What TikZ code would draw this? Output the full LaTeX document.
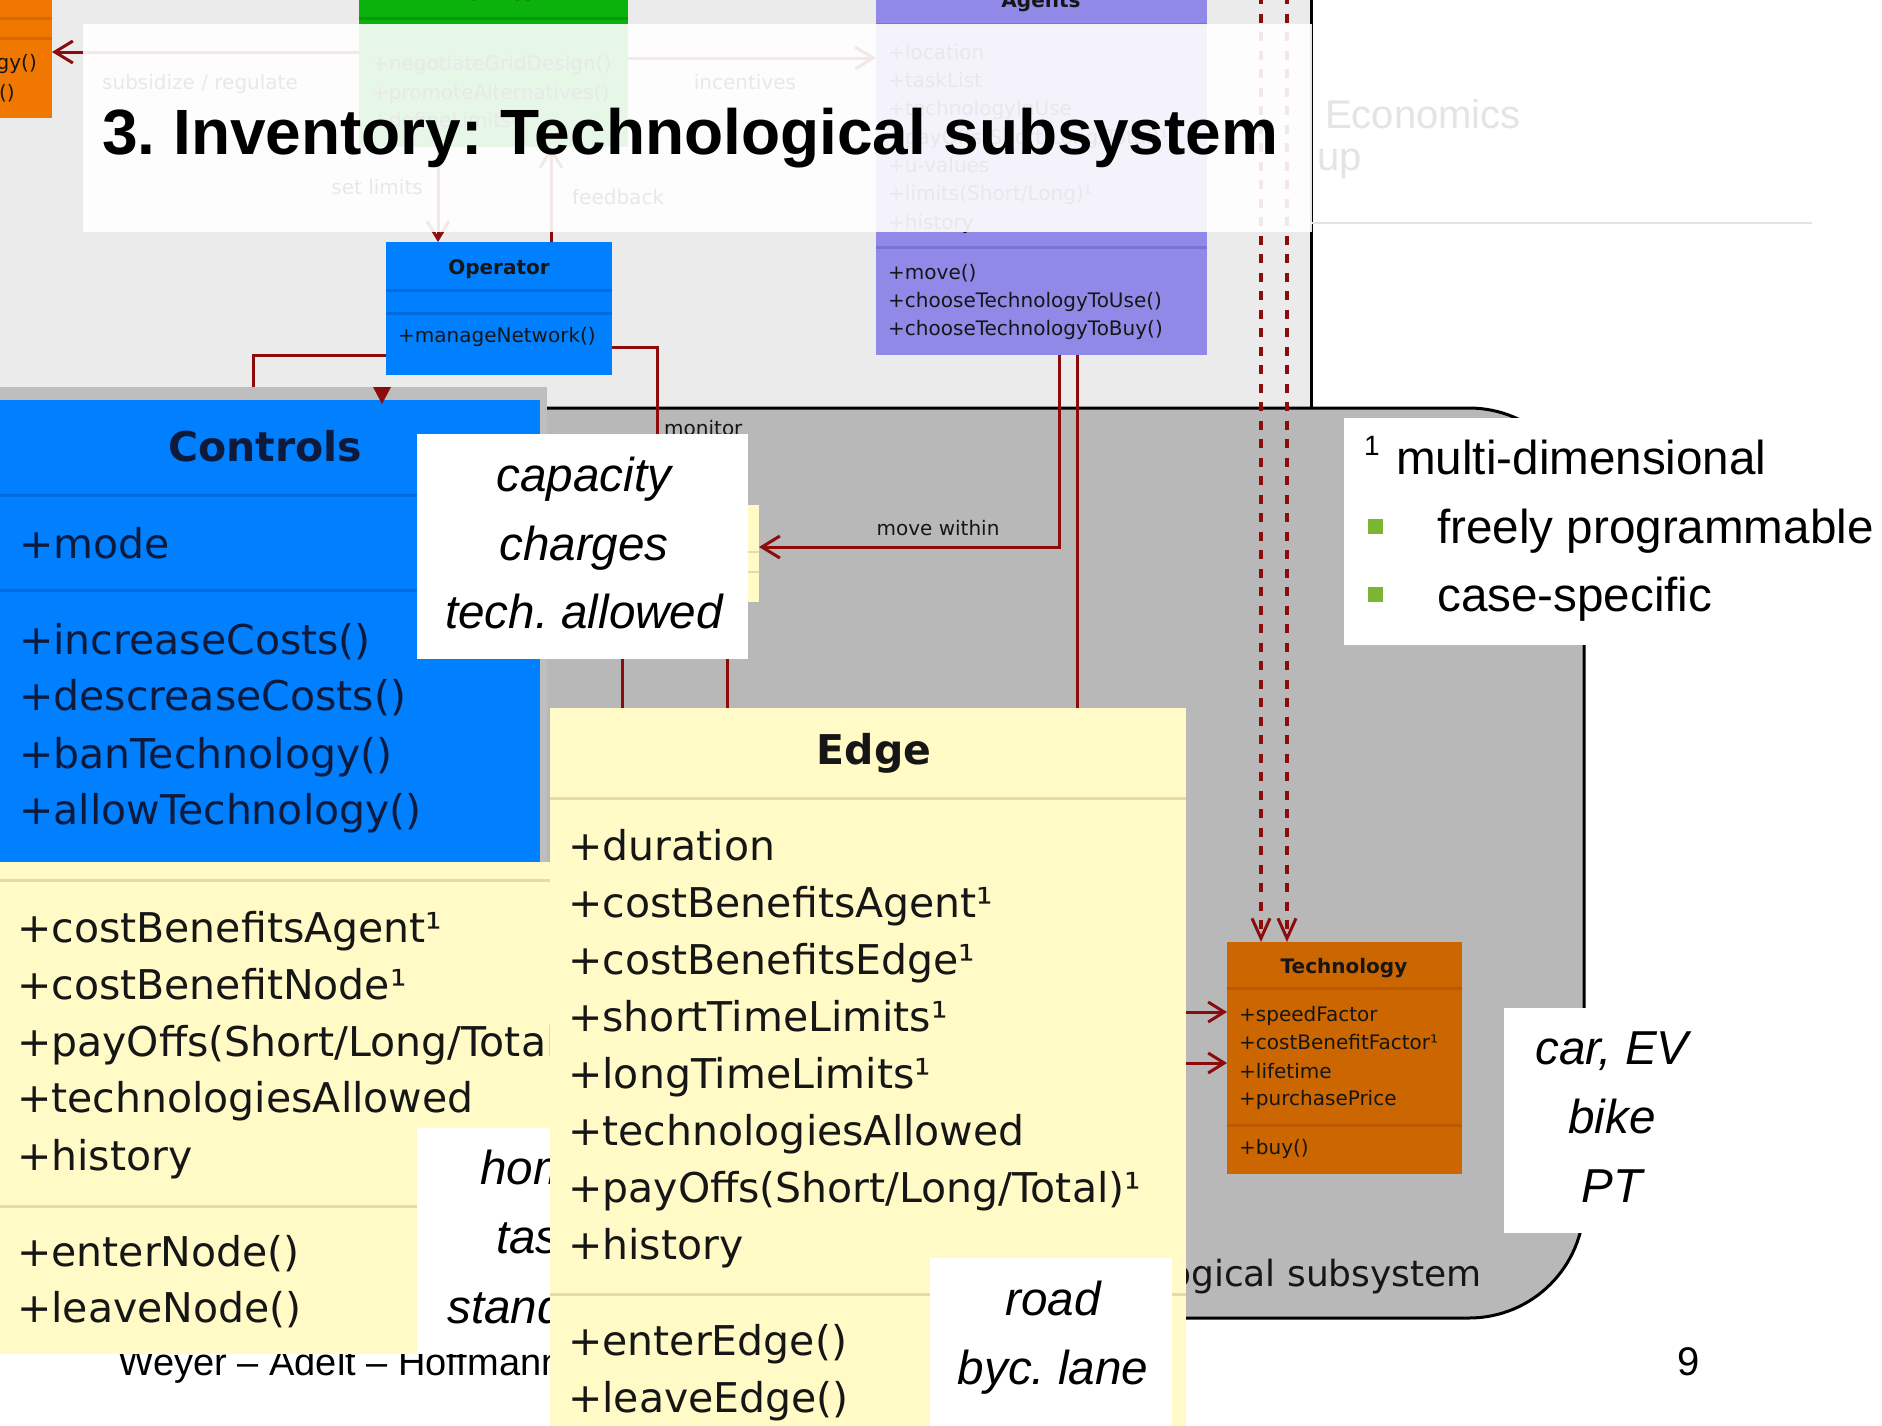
\documentclass[tikz,border=0pt]{standalone}
\usepackage{fontspec}
\setmainfont{Liberation Sans}
\newfontfamily\umlf{DejaVu Sans}
\usetikzlibrary{arrows.meta}
\frenchspacing
\definecolor{bglight}{RGB}{235,235,235}
\definecolor{subgray}{RGB}{184,184,184}
\definecolor{framegray}{RGB}{190,190,190}
\definecolor{connred}{RGB}{140,12,12}
\definecolor{umlblue}{RGB}{0,128,255}
\definecolor{sepblue}{RGB}{0,106,225}
\definecolor{umlyellow}{RGB}{255,250,198}
\definecolor{sepyellow}{RGB}{226,220,172}
\definecolor{umlpurple}{RGB}{145,137,232}
\definecolor{seppurple}{RGB}{122,114,214}
\definecolor{umlgreen}{RGB}{12,178,12}
\definecolor{sepgreen}{RGB}{8,150,8}
\definecolor{techorange}{RGB}{204,102,0}
\definecolor{septech}{RGB}{186,90,0}
\definecolor{brightorange}{RGB}{240,120,0}
\definecolor{sepbright}{RGB}{215,105,0}
\definecolor{bulletgreen}{RGB}{124,181,52}
\definecolor{umltext}{RGB}{22,22,22}
\definecolor{ctrltext}{RGB}{14,26,60}
\definecolor{faint}{RGB}{228,228,228}
\tikzset{
  box/.style={rectangle, inner sep=0pt, outer sep=0pt, anchor=north west},
  conn/.style={draw=connred, line width=3pt},
  barb/.style={-{Straight Barb[length=18pt,width=22pt,line width=3pt]}},
  dashconn/.style={draw=connred, line width=4.5pt, dash pattern=on 9pt off 9.5pt},
  umlS/.style={font=\umlf\fontsize{20}{24}\selectfont, inner sep=0pt, anchor=west, text height=14pt, text depth=0pt, text=umltext},
  umlSB/.style={font=\umlf\bfseries\fontsize{20}{24}\selectfont, inner sep=0pt, anchor=center, text height=14pt, text depth=0pt, text=umltext},
  umlL/.style={font=\umlf\fontsize{41}{48}\selectfont, inner sep=0pt, anchor=west, text height=29pt, text depth=0pt, text=umltext},
  umlLB/.style={font=\umlf\bfseries\fontsize{41}{48}\selectfont, inner sep=0pt, anchor=center, text height=29pt, text depth=0pt, text=umltext},
  slideI/.style={font=\itshape\fontsize{47.6}{57}\selectfont, inner sep=0pt, text height=34pt, text depth=0pt},
  slideR/.style={font=\fontsize{47.6}{57}\selectfont, inner sep=0pt, text height=34pt, text depth=0pt, anchor=west},
  sep/.style={line width=3pt}
}
\begin{document}
\begin{tikzpicture}[x=1pt,y=-1pt]
\useasboundingbox (0,0) rectangle (1882,1425);
\clip (0,0) rectangle (1882,1425);
\fill[white] (0,0) rectangle (1882,1425);
% upper light area
\fill[bglight] (0,0) rectangle (1311,408);
\draw[line width=3pt] (1311,-5) -- (1311,408);
% faint right side
\node[font=\fontsize{40}{48}\selectfont, text=faint, anchor=west, inner sep=0pt] (econ) at (1325,114) {Economics};
\node[font=\fontsize{40}{48}\selectfont, text=faint, anchor=west, inner sep=0pt] (econup) at (1317,164) {up};
\draw[faint, line width=2pt] (1311,223) -- (1812,223);
% technological subsystem package
\draw[line width=3pt, fill=subgray, rounded corners=115pt] (-40,408) rectangle (1584,1318);
\node[font=\umlf\fontsize{36}{44}\selectfont, anchor=east, inner sep=0pt, text=umltext] (sublabel) at (1482,1277) {Technological subsystem};
% top-left orange box
\node[box, fill=brightorange, minimum width=57pt, minimum height=123pt] (orbox) at (-5,-5) {};
\draw[sepbright, sep] (-5,18) -- (52,18);
\draw[sepbright, sep] (-5,38) -- (52,38);
\node[umlS, anchor=east] (or1) at (37,62) {gy()};
\node[umlS, anchor=east] (or2) at (15,92) {()};
% Politics
\node[box, fill=umlgreen, minimum width=269pt, minimum height=152pt] (politics) at (359,-5) {};
\node[umlSB] (poltitle) at (493,-7) {Politics};
\draw[sepgreen, sep] (359,18) -- (628,18);
\node[umlS] (pol1) at (372,63) {+negotiateGridDesign()};
\node[umlS] (pol2) at (372,92) {+promoteAlternatives()};
\node[umlS] (pol3) at (372,120) {+defineLimits()};
% Agents
\node[box, fill=umlpurple, minimum width=331pt, minimum height=360pt] (agents) at (876,-5) {};
\node[umlSB] (agtitle) at (1041,0) {Agents};
\draw[seppurple, sep] (876,24) -- (1207,24);
\draw[seppurple, sep] (876,247) -- (1207,247);
\node[umlS] (ag1) at (888,52) {+location};
\node[umlS] (ag2) at (888,80) {+taskList};
\node[umlS] (ag3) at (888,108) {+technologyInUse};
\node[umlS] (ag4) at (888,137) {+payOffs(Short/Long/Total)¹};
\node[umlS] (ag5) at (888,165) {+u-values};
\node[umlS] (ag6) at (888,193) {+limits(Short/Long)¹};
\node[umlS] (ag7) at (888,222) {+history};
\node[umlS] (ag8) at (888,272) {+move()};
\node[umlS] (ag9) at (888,300) {+chooseTechnologyToUse()};
\node[umlS] (ag10) at (888,328) {+chooseTechnologyToBuy()};
% Operator
\node[box, fill=umlblue, minimum width=226pt, minimum height=133pt] (operator) at (386,242) {};
\node[umlSB] (optitle) at (499,267) {Operator};
\draw[sepblue, sep] (386,290) -- (612,290);
\draw[sepblue, sep] (386,313) -- (612,313);
\node[umlS] (op1) at (398,335) {+manageNetwork()};
% Technology
\node[box, fill=techorange, minimum width=235pt, minimum height=232pt] (tech) at (1227,942) {};
\node[umlSB] (techtitle) at (1344,966) {Technology};
\draw[septech, sep] (1227,988) -- (1462,988);
\draw[septech, sep] (1227,1125) -- (1462,1125);
\node[umlS] (t1) at (1239,1014) {+speedFactor};
\node[umlS] (t2) at (1239,1042) {+costBenefitFactor¹};
\node[umlS] (t3) at (1239,1071) {+lifetime};
\node[umlS] (t4) at (1239,1098) {+purchasePrice};
\node[umlS] (t5) at (1239,1147) {+buy()};
% small node strip
\node[box, fill=umlyellow, minimum width=159pt, minimum height=97pt] (nodestrip) at (600,505) {};
\draw[sepyellow, line width=2pt] (600,552) -- (759,552);
\draw[sepyellow, line width=2pt] (600,572) -- (759,572);
% connector coordinates
\coordinate (polL) at (359,52);
\coordinate (orR) at (52,52);
\coordinate (polR) at (628,58);
\coordinate (agL) at (876,58);
\coordinate (polB1) at (438,147);
\coordinate (opT1) at (438,242);
\coordinate (opT2) at (551,242);
\coordinate (polB2) at (551,147);
\coordinate (opL) at (386,355);
\coordinate (ctrlT) at (253,387);
\coordinate (opR) at (612,347);
\coordinate (monEnd) at (657,500);
\coordinate (ag1B) at (1059,355);
\coordinate (nodeR) at (759,547);
\coordinate (ag2B) at (1077,355);
\coordinate (edgeT) at (1077,708);
\coordinate (ns1) at (622,600);
\coordinate (et1) at (622,708);
\coordinate (ns2) at (727,600);
\coordinate (et2) at (727,708);
\coordinate (dtop1) at (1261,-5);
\coordinate (dtop2) at (1287,-5);
\coordinate (techT1) at (1261,942);
\coordinate (techT2) at (1287,942);
\coordinate (edgeR1) at (1186,1012);
\coordinate (techL1) at (1227,1012);
\coordinate (edgeR2) at (1186,1063);
\coordinate (techL2) at (1227,1063);
% connectors
\draw[conn, barb] (polL) -- (orR);
\draw[conn, barb] (polR) -- (agL);
\draw[conn, barb] (polB1) -- (opT1);
\draw[conn, barb] (opT2) -- (polB2);
\draw[conn] (opL) -| (ctrlT);
\draw[conn] (opR) -| (monEnd);
\draw[conn, barb] (ag1B) |- (nodeR);
\draw[conn] (ag2B) -- (edgeT);
\draw[conn] (ns1) -- (et1);
\draw[conn] (ns2) -- (et2);
\draw[dashconn, -{Straight Barb[length=20pt,width=18pt,line width=3pt]}] (dtop1) -- (techT1);
\draw[dashconn, -{Straight Barb[length=20pt,width=18pt,line width=3pt]}] (dtop2) -- (techT2);
\draw[conn, -{Straight Barb[length=16pt,width=20pt,line width=3pt]}] (edgeR1) -- (techL1);
\draw[conn, -{Straight Barb[length=16pt,width=20pt,line width=3pt]}] (edgeR2) -- (techL2);
% connector labels
\node[umlS, anchor=center] (lsub) at (200,82) {subsidize / regulate};
\node[umlS, anchor=center] (linc) at (745,82) {incentives};
\node[umlS, anchor=east] (lset) at (423,187) {set limits};
\node[umlS] (lfeed) at (572,197) {feedback};
\node[umlS] (lmon) at (664,428) {monitor};
\node[umlS, anchor=center] (lmove) at (938,528) {move within};
% Controls
\node[box, fill=framegray, minimum width=552pt, minimum height=475pt] (ctrlframe) at (-5,387) {};
\node[box, fill=umlblue, minimum width=545pt, minimum height=462pt] (controls) at (-5,400) {};
\fill[connred] (373,387) -- (391,387) -- (382,404) -- cycle;
\node[umlLB, text=ctrltext] (ctitle) at (265,447) {Controls};
\draw[sepblue, sep] (-5,495) -- (540,495);
\draw[sepblue, sep] (-5,590) -- (540,590);
\node[umlL, text=ctrltext] (c1) at (19,544) {+mode};
\node[umlL, text=ctrltext] (c2) at (19,640) {+increaseCosts()};
\node[umlL, text=ctrltext] (c3) at (19,696) {+descreaseCosts()};
\node[umlL, text=ctrltext] (c4) at (19,754) {+banTechnology()};
\node[umlL, text=ctrltext] (c5) at (19,810) {+allowTechnology()};
% footer
\node[font=\fontsize{38}{46}\selectfont, anchor=base west, inner sep=0pt] (footer) at (118,1375) {Weyer -- Adelt -- Hoffmann};
\node[font=\fontsize{40}{48}\selectfont, anchor=base west, inner sep=0pt] (pagenum) at (1677,1375) {9};
% Node box
\node[box, fill=umlyellow, minimum width=557pt, minimum height=492pt] (nodebox) at (-5,862) {};
\draw[sepyellow, sep] (-5,880) -- (552,880);
\draw[sepyellow, sep] (-5,1206) -- (552,1206);
\node[umlL] (n1) at (17,928) {+costBenefitsAgent¹};
\node[umlL] (n2) at (17,985) {+costBenefitNode¹};
\node[umlL] (n3) at (17,1042) {+payOffs(Short/Long/Total)¹};
\node[umlL] (n4) at (17,1098) {+technologiesAllowed};
\node[umlL] (n5) at (17,1156) {+history};
\node[umlL] (n6) at (17,1252) {+enterNode()};
\node[umlL] (n7) at (17,1308) {+leaveNode()};
% hom box
\node[box, fill=white, minimum width=135pt, minimum height=226pt] (hombox) at (417,1128) {};
\begin{scope}
\clip (417,1128) rectangle (552,1354);
\node[slideI, anchor=west] (h1) at (480,1167) {home};
\node[slideI, anchor=west] (h2) at (496,1236) {task};
\node[slideI, anchor=west] (h3) at (447,1306) {standard};
\end{scope}
% capacity box
\node[box, fill=white, minimum width=331pt, minimum height=225pt] (capbox) at (417,434) {};
\node[slideI] (cap1) at (584,474) {capacity};
\node[slideI] (cap2) at (584,543) {charges};
\node[slideI] (cap3) at (584,611) {tech. allowed};
% Edge box
\node[box, fill=umlyellow, minimum width=636pt, minimum height=730pt] (edge) at (550,708) {};
\node[umlLB] (etitle) at (874,750) {Edge};
\draw[sepyellow, sep] (550,798) -- (1186,798);
\draw[sepyellow, sep] (550,1294) -- (1186,1294);
\node[umlL] (e1) at (568,846) {+duration};
\node[umlL] (e2) at (568,903) {+costBenefitsAgent¹};
\node[umlL] (e3) at (568,960) {+costBenefitsEdge¹};
\node[umlL] (e4) at (568,1017) {+shortTimeLimits¹};
\node[umlL] (e5) at (568,1074) {+longTimeLimits¹};
\node[umlL] (e6) at (568,1131) {+technologiesAllowed};
\node[umlL] (e7) at (568,1188) {+payOffs(Short/Long/Total)¹};
\node[umlL] (e8) at (568,1245) {+history};
\node[umlL] (e9) at (568,1341) {+enterEdge()};
\node[umlL] (e10) at (568,1398) {+leaveEdge()};
% road box
\node[box, fill=white, minimum width=242pt, minimum height=175pt] (roadbox) at (930,1258) {};
\node[slideI] (r1) at (1053,1298) {road};
\node[slideI] (r2) at (1053,1367) {byc. lane};
% car box
\node[box, fill=white, minimum width=245pt, minimum height=225pt] (carbox) at (1504,1008) {};
\node[slideI] (v1) at (1612,1047) {car, EV};
\node[slideI] (v2) at (1612,1116) {bike};
\node[slideI] (v3) at (1612,1185) {PT};
% footnote box
\node[box, fill=white, minimum width=540pt, minimum height=227pt] (footbox) at (1344,418) {};
\node[font=\fontsize{28}{34}\selectfont, anchor=west, inner sep=0pt] (fsup) at (1364,446) {1};
\node[slideR] (f1) at (1396,457) {multi-dimensional};
\fill[bulletgreen] (1368,519) rectangle (1383,534);
\fill[bulletgreen] (1368,587) rectangle (1383,602);
\node[slideR] (f2) at (1437,526) {freely programmable};
\node[slideR] (f3) at (1437,594) {case-specific};
% title overlay
\fill[white, opacity=0.9] (83,24) rectangle (1312,232);
\node[font=\bfseries\fontsize{64}{76}\selectfont, anchor=base west, inner sep=0pt] (title) at (102,154) {3. Inventory: Technological subsystem};
\end{tikzpicture}
\end{document}
